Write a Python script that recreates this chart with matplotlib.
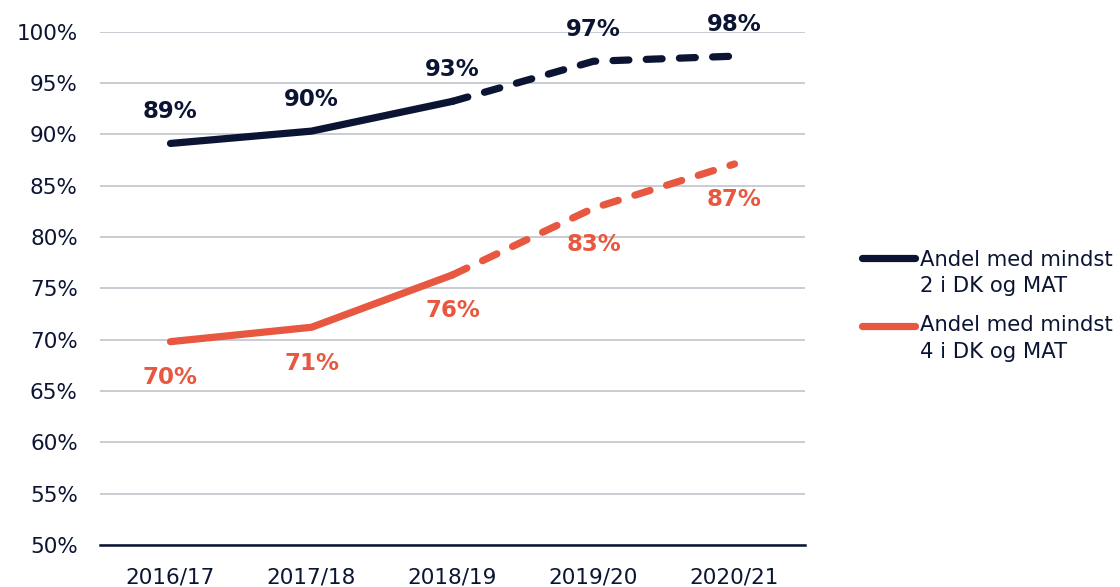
import matplotlib
matplotlib.use("Agg")
import matplotlib.pyplot as plt
from matplotlib.lines import Line2D

years = ["2016/17", "2017/18", "2018/19", "2019/20", "2020/21"]
mindst2 = [89.1, 90.3, 93.2, 97.1, 97.6]
mindst4 = [69.8, 71.2, 76.3, 82.8, 87.1]
labels2 = ["89%", "90%", "93%", "97%", "98%"]
labels4 = ["70%", "71%", "76%", "83%", "87%"]
legend_labels = [["Andel med mindst", "2 i DK og MAT"], ["Andel med mindst", "4 i DK og MAT"]]
yticks = list(range(50, 101, 5))

NAVY = "#0b1533"
ORANGE = "#e8573f"
GRID = "#c6c8d0"

plt.rcParams["font.family"] = ["DejaVu Sans"]

fig = plt.figure(figsize=(11.2, 5.87), dpi=100)
ax = fig.add_axes([100 / 1120, 1 - 545 / 587, 705 / 1120, (545 - 31.5) / 587])

x = list(range(len(years)))
solid_n = 3  # first three points solid, remainder dashed (projection)

for vals, color, labs, off in [
    (mindst2, NAVY, labels2, 32),
    (mindst4, ORANGE, labels4, -36),
]:
    ax.plot(x[:solid_n], vals[:solid_n], color=color, lw=5.2,
            solid_capstyle="round", solid_joinstyle="round", zorder=3)
    ax.plot(x[solid_n - 1:], vals[solid_n - 1:], color=color, lw=5.2,
            dashes=(2.2, 2.4), dash_capstyle="round", dash_joinstyle="round", zorder=3)
    for xi, v, t in zip(x, vals, labs):
        ax.annotate(t, (xi, v), xytext=(0, off * 0.72), textcoords="offset points",
                    ha="center", va="center", fontsize=16.5, fontweight="bold",
                    color=color)

ax.set_xlim(-0.5, 4.5)
ax.set_ylim(50, 100)
ax.set_yticks(yticks)
ax.set_yticklabels([f"{t}%" for t in yticks])
ax.set_xticks(x)
ax.set_xticklabels(years)
ax.tick_params(axis="both", length=0, labelsize=15.5, colors=NAVY)
ax.tick_params(axis="y", pad=16)
ax.tick_params(axis="x", pad=16)
ax.grid(axis="y", color=GRID, lw=1.3)
ax.set_axisbelow(True)
for s in ["top", "right", "left"]:
    ax.spines[s].set_visible(False)
ax.spines["bottom"].set_color(NAVY)
ax.spines["bottom"].set_linewidth(1.8)
ax.spines["bottom"].set_zorder(4)

# Legend (manual, handle aligned with first text line)
handle_y = [258.3, 325.7]
baselines = [[266, 292], [330.5, 357.5]]
for lines, color, hy, bls in zip(legend_labels, [NAVY, ORANGE], handle_y, baselines):
    yc = 1 - hy / 587
    fig.add_artist(Line2D([862 / 1120, 915 / 1120], [yc, yc], color=color, lw=5.2,
                          solid_capstyle="round", transform=fig.transFigure))
    for line, bl in zip(lines, bls):
        fig.text(920 / 1120, 1 - bl / 587, line, ha="left", va="baseline",
                 fontsize=15.2, color=NAVY)

fig.savefig("out.png", dpi=100, facecolor="white")
